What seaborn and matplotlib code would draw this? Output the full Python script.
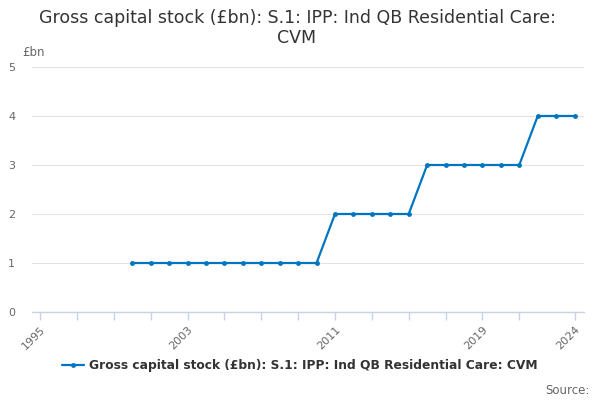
import matplotlib
matplotlib.use("Agg")
import matplotlib.pyplot as plt
import seaborn as sns
import pandas as pd

years = list(range(2000, 2025))
values = [1]*11 + [2]*5 + [3]*6 + [4]*3
series_name = "Gross capital stock (£bn): S.1: IPP: Ind QB Residential Care: CVM"
title = "Gross capital stock (£bn): S.1: IPP: Ind QB Residential Care:\nCVM"
label_years = [1995, 2003, 2011, 2019, 2024]
tick_years = [1995, 1997, 1999, 2001, 2003, 2005, 2007, 2009, 2011, 2013, 2015, 2017, 2019, 2021, 2024]

sns.set_theme(style="white")
plt.rcParams['font.family'] = ['DejaVu Sans']

df = pd.DataFrame({"year": years, "value": values, "series": series_name})

fig = plt.figure(figsize=(6, 4), dpi=100)
ax = fig.add_axes([0.053, 0.22, 0.92, 0.6125])
sns.lineplot(data=df, x="year", y="value", hue="series", palette=["#0076C0"],
             marker="o", markersize=3.5, markeredgewidth=0, linewidth=1.6, ax=ax)

ax.set_xlim(1994.55, 2024.5)
ax.set_ylim(0, 5)
ax.set_yticks([0, 1, 2, 3, 4, 5])
ax.yaxis.grid(True, color="#e3e3e3", linewidth=0.8)
ax.set_xticks(tick_years)
ax.set_xticklabels([str(y) if y in label_years else "" for y in tick_years],
                   rotation=45, ha="right", rotation_mode="anchor", color="#666666", fontsize=8)
ax.tick_params(axis="x", length=6, color="#c6d3e6", width=1, pad=3, bottom=True)
ax.tick_params(axis="y", length=0, labelsize=8, labelcolor="#666666", pad=12)
for s in ["top", "right", "left"]:
    ax.spines[s].set_visible(False)
ax.spines["bottom"].set_color("#c6d3e6")
ax.spines["bottom"].set_linewidth(1)
ax.set_xlabel("")
ax.set_ylabel("")

fig.text(0.495, 0.93, title, ha="center", va="center", fontsize=12.5, color="#333333",
         linespacing=1.2)
fig.text(0.037, 0.87, "£bn", ha="left", va="center", fontsize=8.5, color="#666666")

leg = ax.legend(loc="center", bbox_to_anchor=(0.486, -0.22), bbox_transform=ax.transAxes,
                frameon=False, fontsize=8.8, handlelength=1.8, handletextpad=0.4)
for t in leg.get_texts():
    t.set_fontweight("bold")
    t.set_color("#333333")
fig.text(0.982, 0.025, "Source:", ha="right", va="center", fontsize=8.5, color="#666666")

fig.savefig("out.png", dpi=100)
